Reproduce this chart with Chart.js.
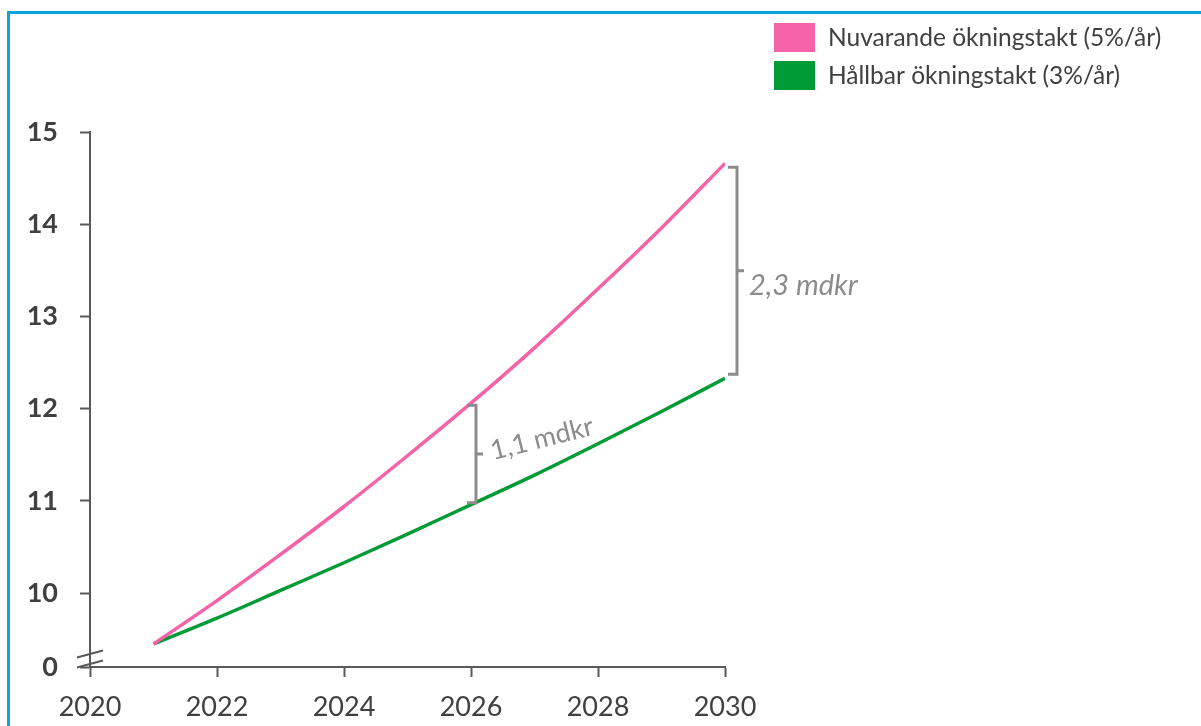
<!DOCTYPE html>
<html>
<head>
<meta charset="utf-8">
<script src="https://cdn.jsdelivr.net/npm/chart.js@4.4.1/dist/chart.umd.min.js"></script>
<style>
  html, body { margin: 0; padding: 0; background: #ffffff; }
  #wrap { position: relative; width: 1201px; height: 726px; overflow: hidden; background: #fff; }
  #frame { position: absolute; left: 7px; top: 11px; width: 1300px; height: 800px;
           border-top: 3px solid #0AA5D8; border-left: 3px solid #0AA5D8; box-sizing: border-box; }
  canvas { position: absolute; left: 0; top: 0; }
</style>
</head>
<body>
<div id="wrap">
  <div id="frame"></div>
  <canvas id="c" width="1201" height="726"></canvas>
</div>
<script>
// ---- Data ----
const years = [2021, 2022, 2023, 2024, 2025, 2026, 2027, 2028, 2029, 2030];
const currentRate = [9.45, 9.92, 10.42, 10.94, 11.49, 12.06, 12.66, 13.30, 13.96, 14.66];
const sustainableRate = [9.45, 9.73, 10.03, 10.33, 10.64, 10.96, 11.28, 11.62, 11.97, 12.33];
const seriesNames = ['Nuvarande ökningstakt (5%/år)', 'Hållbar ökningstakt (3%/år)'];
const yTickValues = [9.2, 10, 11, 12, 13, 14, 15];
const yTickLabels = ['0', '10', '11', '12', '13', '14', '15'];
const xTickValues = [2020, 2022, 2024, 2026, 2028, 2030];
const xTickLabels = ['2020', '2022', '2024', '2026', '2028', '2030'];
const gapYears = [2026, 2030];
const gapLabels = ['1,1 mdkr', '2,3 mdkr'];

// ---- Styles ----
const PINK = '#F462A7';
const GREEN = '#009A36';
const AXIS = '#595959';
const TEXT = '#404040';
const GRAY = '#8C8C8C';
const FONT = 'Lato, "Open Sans", sans-serif';
const gapStyles = [
  { dx: 5, inset: 2, textDx: 17, textDy: 6, angle: -14, italic: false, size: 27 },
  { dx: 12, inset: 4, textDx: 12, textDy: 24, angle: 0, italic: true, size: 29 }
];

const pts = (arr) => years.map((x, i) => ({ x: x, y: arr[i] }));

const decorPlugin = {
  id: 'decor',
  afterDraw(chart) {
    const ctx = chart.ctx;
    const xs = chart.scales.x, ys = chart.scales.y;
    // axis break marks
    const ax = xs.left;
    const y0 = ys.getPixelForValue(yTickValues[0]);
    ctx.save();
    ctx.strokeStyle = AXIS;
    ctx.lineWidth = 2;
    [13, 3].forEach(off => {
      ctx.beginPath();
      ctx.moveTo(ax - 13, y0 - off + 3.5);
      ctx.lineTo(ax + 13, y0 - off - 3.5);
      ctx.stroke();
    });
    ctx.restore();

    // gap brackets
    const d0 = chart.data.datasets[0].data;
    const d1 = chart.data.datasets[1].data;
    gapYears.forEach((yr, i) => {
      const st = gapStyles[i];
      const idx = years.indexOf(yr);
      const x = xs.getPixelForValue(yr) + st.dx;
      const top = ys.getPixelForValue(d0[idx].y) + st.inset;
      const bot = ys.getPixelForValue(d1[idx].y) - st.inset;
      const mid = (top + bot) / 2;
      ctx.save();
      ctx.strokeStyle = GRAY;
      ctx.lineWidth = 3;
      ctx.beginPath();
      ctx.moveTo(x - 9, top);
      ctx.lineTo(x, top);
      ctx.lineTo(x, bot);
      ctx.lineTo(x - 9, bot);
      ctx.moveTo(x, mid);
      ctx.lineTo(x + 7, mid);
      ctx.stroke();
      ctx.fillStyle = GRAY;
      ctx.font = (st.italic ? 'italic ' : '') + st.size + 'px ' + FONT;
      ctx.textBaseline = 'alphabetic';
      ctx.textAlign = 'left';
      ctx.translate(x + st.textDx, mid + st.textDy);
      ctx.rotate(st.angle * Math.PI / 180);
      ctx.fillText(gapLabels[i], 0, 0);
      ctx.restore();
    });

    // legend
    ctx.save();
    chart.data.datasets.forEach((ds, i) => {
      const top = 23 + i * 38;
      ctx.fillStyle = ds.borderColor;
      ctx.fillRect(774, top, 41, 29);
      ctx.fillStyle = TEXT;
      ctx.font = '24.5px ' + FONT;
      ctx.textBaseline = 'middle';
      ctx.textAlign = 'left';
      ctx.fillText(ds.label, 828, top + 15);
    });
    ctx.restore();
  }
};

new Chart(document.getElementById('c'), {
  type: 'line',
  data: {
    datasets: [
      { label: seriesNames[0], data: pts(currentRate), borderColor: PINK, backgroundColor: PINK,
        borderWidth: 3.5, pointRadius: 0, cubicInterpolationMode: 'monotone', fill: false },
      { label: seriesNames[1], data: pts(sustainableRate), borderColor: GREEN, backgroundColor: GREEN,
        borderWidth: 3.5, pointRadius: 0, cubicInterpolationMode: 'monotone', fill: false }
    ]
  },
  options: {
    responsive: false,
    animation: false,
    layout: { padding: { left: 0, top: 132, right: 476, bottom: 0 } },
    plugins: { legend: { display: false }, tooltip: { enabled: false } },
    scales: {
      x: {
        type: 'linear', min: 2020, max: 2030,
        afterFit(s) { s.height = 59; },
        afterBuildTicks(s) { s.ticks = xTickValues.map(v => ({ value: v })); },
        grid: { drawOnChartArea: false, drawTicks: true, tickLength: 10, tickColor: AXIS, tickWidth: 2 },
        border: { display: true, color: AXIS, width: 2 },
        ticks: { padding: 14, color: TEXT, font: { family: FONT, size: 27 },
                 maxRotation: 0, autoSkip: false,
                 callback: (v) => xTickLabels[xTickValues.indexOf(v)] }
      },
      y: {
        type: 'linear', min: 9.2, max: 15,
        afterFit(s) { s.width = 90; },
        afterBuildTicks(s) { s.ticks = yTickValues.map(v => ({ value: v })); },
        grid: { drawOnChartArea: false, drawTicks: true, tickLength: 10, tickColor: AXIS, tickWidth: 2 },
        border: { display: true, color: AXIS, width: 2 },
        ticks: { padding: 22, color: TEXT, font: { family: FONT, size: 27, weight: 'bold' },
                 autoSkip: false,
                 callback: (v) => yTickLabels[yTickValues.indexOf(v)] }
      }
    }
  },
  plugins: [decorPlugin]
});
</script>
</body>
</html>
